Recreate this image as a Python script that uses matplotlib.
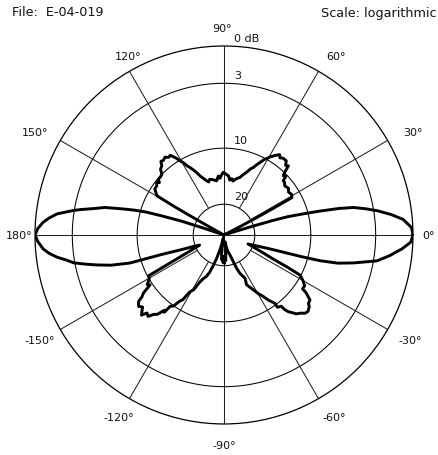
import numpy as np
import matplotlib
matplotlib.use("Agg")
import matplotlib.pyplot as plt

# pattern: angle (deg, ccw from 0) and gain (dB)
angle_deg = [
    0, 2.3, 5, 7, 9, 10.5, 12, 13, 14, 15, 16, 16.5, 17, 17.5, 18,
    26, 27.6, 28.0, 28.4, 28.8, 31, 33.5, 36, 39, 41, 42.5, 43.5, 45, 46, 47,
    48.5, 50, 52.5, 54, 55.3, 57.3, 58.5, 59.5, 60.7, 62, 63.6, 65, 66.6, 68,
    70, 72, 74.5, 77, 79, 80.5, 82, 84, 85.5, 87.4, 89, 90.6, 92.2, 94, 95.5,
    97.7, 100, 102.4, 104.5, 106, 107.7, 109.7, 111.5, 113.5, 115, 116.7, 118,
    119.2, 120.6, 122.2, 124, 125.5, 127.2, 129, 130.6, 132, 134, 135.6, 137.5,
    139.6, 141, 142, 144, 146.3, 148, 149.7, 150.2, 150.5, 150.8, 151.5,
    157, 161, 161.5, 162, 163, 163.6, 164.5, 165.5, 167, 168.2, 170, 170.8,
    172.8, 174.5, 176, 178, 180, 182, 184.4, 186, 187.6, 189, 190.5, 192,
    193.3, 195, 196.6, 197.4, 199, 200.5, 202.6, 205.6, 207, 207.9, 208.4,
    210.5, 212.9, 214, 215.8, 217, 217.9, 219.9, 221.5, 223, 224.2, 225.4,
    227, 228.5, 230, 231.6, 232.3, 233, 234.5, 236.2, 237.5, 239, 241, 242.8,
    245, 247, 249, 250.5, 252.6, 255, 257, 259, 261, 263, 265, 266.5, 268,
    269.5, 271, 272.5, 274, 276, 278.5, 281.5, 284, 286.7, 289.2, 290.8,
    292.7, 295.9, 294.4, 297.3, 300.5, 302.5, 304.3, 306.7, 306.5, 308.8,
    309.1, 310, 311.5, 312.5, 314.5, 316, 317.7, 320, 321, 322.9, 323.8, 325,
    325.5, 327.8, 329.9, 332.2, 333.1, 333.9, 336, 339.4, 343.1, 344.4, 345,
    346.1, 347.8, 350.4, 352.9, 355.5, 357.8, 360,
]
gain_db = [
    0, -0.1, -0.7, -1.6, -2.7, -3.7, -4.8, -6.3, -8.5, -10.8, -13.0, -15.5,
    -20.3, -26.0, -29.8,
    -29.8, -23.2, -18.4, -14.6, -11.3, -11.1, -11.3, -11.0, -11.2, -10.9,
    -10.9, -10.2, -10.4, -9.9, -9.0,
    -9.2, -8.7, -8.7, -8.9, -8.6, -9.0, -9.3, -9.5, -9.9, -10.2, -10.8, -11.3,
    -11.9, -12.2,
    -12.9, -13.4, -14.1, -14.4, -14.7, -15.0, -14.6, -14.9, -14.2, -14.0,
    -13.8, -13.6, -14.0, -14.6, -14.2,
    -15.0, -14.8, -14.6, -14.5, -14.9, -14.6, -14.1, -13.6, -12.8, -12.2,
    -11.6, -11.2,
    -10.6, -10.1, -9.4, -8.8, -8.9, -8.6, -8.8, -8.7, -9.2, -9.4, -10.0,
    -10.1,
    -10.1, -10.5, -10.2, -10.5, -10.5, -10.9, -11.3, -14.6, -18.4, -23.0,
    -29.8,
    -29.8, -28.4, -22.1, -16.6, -13.0, -10.8, -9.2, -7.85, -5.8, -5.0, -3.5,
    -2.9,
    -1.6, -1.0, -0.57, -0.2, 0, -0.2, -0.57, -1.0, -1.6, -2.3, -2.9, -4.0,
    -5.0, -6.4, -8.55, -13.3, -16.8, -19.5, -21.1, -17.9, -15.0, -12.3,
    -10.2,
    -10.0, -9.4, -9.7, -8.4, -8.0, -7.35, -7.0, -7.3, -6.9, -6.6, -7.2,
    -7.0, -7.6, -7.9, -8.8, -8.6, -9.7, -9.9, -11.0, -11.4, -13.0, -13.6,
    -15.3,
    -16.3, -16.8, -17.9, -19.5, -21.6, -24.5, -27.0, -29.0, -26.0, -23.0,
    -21.5, -22.5, -20.8,
    -22.0, -20.6, -22.5, -21.3, -24.0, -27.2, -24.7, -23.5, -22.6, -20.6,
    -18.8,
    -17.5, -16.2, -15.0, -14.0, -12.7, -12.0, -11.1, -10.2, -9.6, -9.4,
    -8.8, -8.3, -7.85, -7.5, -7.2, -6.85, -6.75, -7.0, -7.3, -7.4, -7.8,
    -8.35,
    -8.9, -8.9, -9.4, -10.1, -12.3, -14.9, -17.9, -21.3, -16.4, -10.8, -8.4,
    -6.35, -4.8, -2.7, -1.7, -0.8, -0.15, 0,
]

ring_db = [-20, -10, -3, 0]
ring_labels = ["20", "10", "3", "0 dB"]
spoke_deg = [0, 30, 60, 90, 120, 150, 180, 210, 240, 270, 300, 330]
spoke_labels = ["0°", "30°", "60°", "90°", "120°", "150°", "180°",
                "-150°", "-120°", "-90°", "-60°", "-30°"]

# radial "logarithmic" scale of the chart
K = 0.06
FLOOR = -30.0
E0 = np.exp(K * FLOOR)


def fwd(g):
    g = np.asarray(g, dtype=float)
    return (np.exp(K * g) - E0) / (1 - E0)


def inv(r):
    r = np.asarray(r, dtype=float)
    return np.log(np.clip(r * (1 - E0) + E0, 1e-9, None)) / K


fig = plt.figure(figsize=(4.39, 4.56), dpi=100)
ax = fig.add_axes([0.0797, 0.068, 0.861, 0.829], projection="polar")
ax.set_rscale("function", functions=(fwd, inv))
ax.set_rlim(FLOOR, 0)
ax.set_xticks([])
ax.set_yticks([])
ax.grid(False)
ax.spines["polar"].set_linewidth(0.9)

# rings
full = np.linspace(0, 2 * np.pi, 361)
for g in ring_db[:-1]:
    ax.plot(full, np.full_like(full, g), color="black", lw=0.75)

# spokes: axes lines through the centre, the rest from the 20 dB ring
for d in spoke_deg:
    t = np.radians(d)
    r0 = FLOOR if d % 90 == 0 else ring_db[0]
    ax.plot([t, t], [r0, 0], color="#222222", lw=0.75)

# pattern
ax.plot(np.radians(angle_deg), gain_db, color="black", lw=2.1,
        solid_joinstyle="round")

# angle labels (offsets in pixels from the outer circle)
label_offsets = [(16, 0), (25, 8), (18, 15), (-2, 18), (-1, 15), (-25, 8),
                 (-16, 0), (-21, -11), (-11, -18), (0, -21), (16, -18),
                 (23, -11)]
for d, lab, off in zip(spoke_deg, spoke_labels, label_offsets):
    ax.annotate(lab, xy=(np.radians(d), 0), xytext=off,
                textcoords="offset pixels", ha="center", va="center",
                fontsize=8, color="#111111", annotation_clip=False)

# ring labels, just above each ring right of the vertical line
for g, lab in zip(ring_db, ring_labels):
    ax.annotate(lab, xy=(np.pi / 2, g), xytext=(10, 8),
                textcoords="offset pixels", ha="left", va="center",
                fontsize=8, color="#111111", annotation_clip=False)

fig.text(12 / 439, 1 - 13 / 456, "File:  E-04-019", ha="left", va="center",
         fontsize=9.2, color="#111111")
fig.text(437 / 439, 1 - 13 / 456, "Scale: logarithmic", ha="right",
         va="center", fontsize=9.2, color="#111111")

fig.savefig("out.png", dpi=100, facecolor="white")
